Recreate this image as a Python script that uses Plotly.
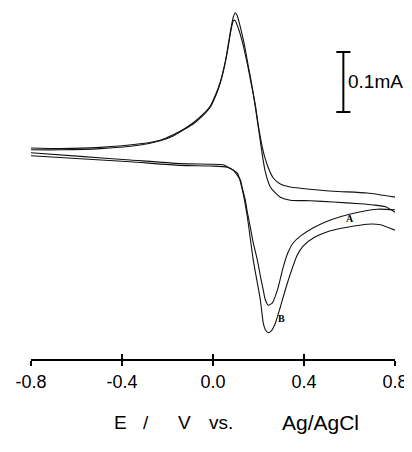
import plotly.graph_objects as go

# Cyclic voltammograms A and B (E in V vs Ag/AgCl, current in mA)
A_fwd_E = [-0.800, -0.671, -0.495, -0.320, -0.232, -0.175, -0.122, -0.087, -0.047, -0.012, 0.015, 0.032,
           0.050, 0.063, 0.076, 0.085, 0.091, 0.098, 0.111, 0.129, 0.151, 0.168, 0.186, 0.199, 0.212,
           0.225, 0.243, 0.265, 0.296, 0.340, 0.384, 0.529, 0.678, 0.800]
A_fwd_i = [0.020, 0.019, 0.021, 0.027, 0.033, 0.042, 0.053, 0.062, 0.075, 0.090, 0.112, 0.130,
           0.157, 0.180, 0.210, 0.227, 0.233, 0.232, 0.220, 0.197, 0.160, 0.127, 0.092, 0.058, 0.030,
           0.008, -0.013, -0.030, -0.040, -0.045, -0.047, -0.052, -0.055, -0.062]

A_rev_E = [0.800, 0.722, 0.604, 0.516, 0.441, 0.384, 0.353, 0.331, 0.309, 0.283, 0.261, 0.243, 0.230,
           0.221, 0.208, 0.195, 0.177, 0.164, 0.151, 0.142, 0.129, 0.120, 0.102, 0.089, 0.067, 0.045,
           -0.012, -0.144, -0.364, -0.583, -0.800]
A_rev_i = [-0.083, -0.082, -0.090, -0.100, -0.113, -0.127, -0.138, -0.153, -0.178, -0.217, -0.238,
           -0.242, -0.233, -0.217, -0.193, -0.167, -0.138, -0.112, -0.087, -0.067, -0.047, -0.033,
           -0.023, -0.017, -0.012, -0.008, -0.007, -0.006, 0.000, 0.006, 0.012]

B_fwd_E = [-0.800, -0.671, -0.495, -0.320, -0.232, -0.175, -0.122, -0.087, -0.047, -0.012, 0.015, 0.032,
           0.050, 0.063, 0.076, 0.089, 0.098, 0.107, 0.120, 0.138, 0.155, 0.173, 0.190, 0.204, 0.217,
           0.230, 0.252, 0.274, 0.296, 0.340, 0.428, 0.529, 0.647, 0.705, 0.758, 0.800]
B_fwd_i = [0.017, 0.017, 0.019, 0.025, 0.032, 0.040, 0.052, 0.060, 0.073, 0.088, 0.110, 0.128,
           0.155, 0.183, 0.213, 0.238, 0.2455, 0.240, 0.222, 0.192, 0.157, 0.120, 0.078, 0.042, 0.008,
           -0.020, -0.045, -0.055, -0.062, -0.067, -0.068, -0.070, -0.073, -0.075, -0.078, -0.087]

B_rev_E = [0.800, 0.736, 0.678, 0.590, 0.516, 0.441, 0.397, 0.371, 0.327, 0.296, 0.274, 0.256, 0.243,
           0.230, 0.221, 0.208, 0.177, 0.151, 0.129, 0.107, 0.063, -0.012, -0.144, -0.364, -0.583, -0.800]
B_rev_i = [-0.117, -0.108, -0.107, -0.112, -0.118, -0.130, -0.143, -0.158, -0.205, -0.245, -0.272,
           -0.285, -0.288, -0.283, -0.272, -0.233, -0.167, -0.095, -0.050, -0.022, -0.012, -0.010,
           -0.009, -0.003, 0.002, 0.007]

tick_vals = [-0.8, -0.4, 0.0, 0.4, 0.8]
tick_text = ["-0.8", "-0.4", "0.0", "0.4", "0.8"]

scale_bar_mA = 0.1
scale_bar_E = 0.573
scale_bar_bottom = 0.08

curve_labels = ["A", "B"]
label_E = [0.604, 0.300]
label_i = [-0.098, -0.265]

fig = go.Figure()
line_style = dict(color="#111111", width=1.1, shape="spline", smoothing=0.6)
for E, i in [(A_fwd_E, A_fwd_i), (A_rev_E, A_rev_i), (B_fwd_E, B_fwd_i), (B_rev_E, B_rev_i)]:
    fig.add_trace(go.Scatter(x=E, y=i, mode="lines", line=line_style, showlegend=False, hoverinfo="skip"))

# scale bar drawn on the overlay axis (same scale as x)
top = scale_bar_bottom + scale_bar_mA
fig.add_trace(go.Scatter(x=[scale_bar_E, scale_bar_E], y=[scale_bar_bottom, top], xaxis="x2",
                         mode="lines", line=dict(color="black", width=2), showlegend=False, hoverinfo="skip"))
for yy in (scale_bar_bottom, top):
    fig.add_trace(go.Scatter(x=[scale_bar_E - 0.031, scale_bar_E + 0.031], y=[yy, yy], xaxis="x2",
                             mode="lines", line=dict(color="black", width=2), showlegend=False,
                             hoverinfo="skip"))

annotations = [
    dict(x=scale_bar_E + 0.011, y=scale_bar_bottom + scale_bar_mA / 2, xref="x", yref="y", text="0.1mA",
         showarrow=False, xanchor="left", yanchor="middle",
         font=dict(family="Liberation Sans, Arial", size=19, color="black")),
]
for t, e, c in zip(curve_labels, label_E, label_i):
    annotations.append(dict(x=e, y=c, xref="x", yref="y", text="<b>%s</b>" % t, showarrow=False,
                            font=dict(family="Liberation Serif, Times New Roman", size=10, color="black")))

title_parts = [("E", 0.245, 19), ("/", 0.315, 19), ("V", 0.422, 19), ("vs.", 0.523, 19), ("Ag/AgCl", 0.794, 21)]
for txt, px, fs in title_parts:
    annotations.append(dict(x=px, y=-0.182, xref="paper", yref="paper", text=txt, showarrow=False,
                            xanchor="center", yanchor="middle",
                            font=dict(family="Liberation Sans, Arial", size=fs, color="black")))

fig.update_layout(
    width=412, height=452, autosize=False,
    margin=dict(l=23, r=25, t=0, b=101, pad=0),
    paper_bgcolor="white", plot_bgcolor="white",
    xaxis=dict(range=[-0.8, 0.8], showline=True, linewidth=2, linecolor="black",
               ticks="outside", ticklen=5, tickwidth=1.5, tickcolor="black",
               tickvals=tick_vals, ticktext=tick_text, showgrid=False, zeroline=False,
               automargin=False,
               tickfont=dict(family="Liberation Sans, Arial", size=18, color="black")),
    xaxis2=dict(range=[-0.8, 0.8], overlaying="x", anchor="y", side="bottom",
                ticks="inside", ticklen=5, tickwidth=1.5, tickcolor="black",
                tickvals=tick_vals, showticklabels=False, showline=False, showgrid=False, zeroline=False),
    yaxis=dict(range=[-0.3317, 0.2533], visible=False),
    annotations=annotations,
)

fig.write_html("out.html")
